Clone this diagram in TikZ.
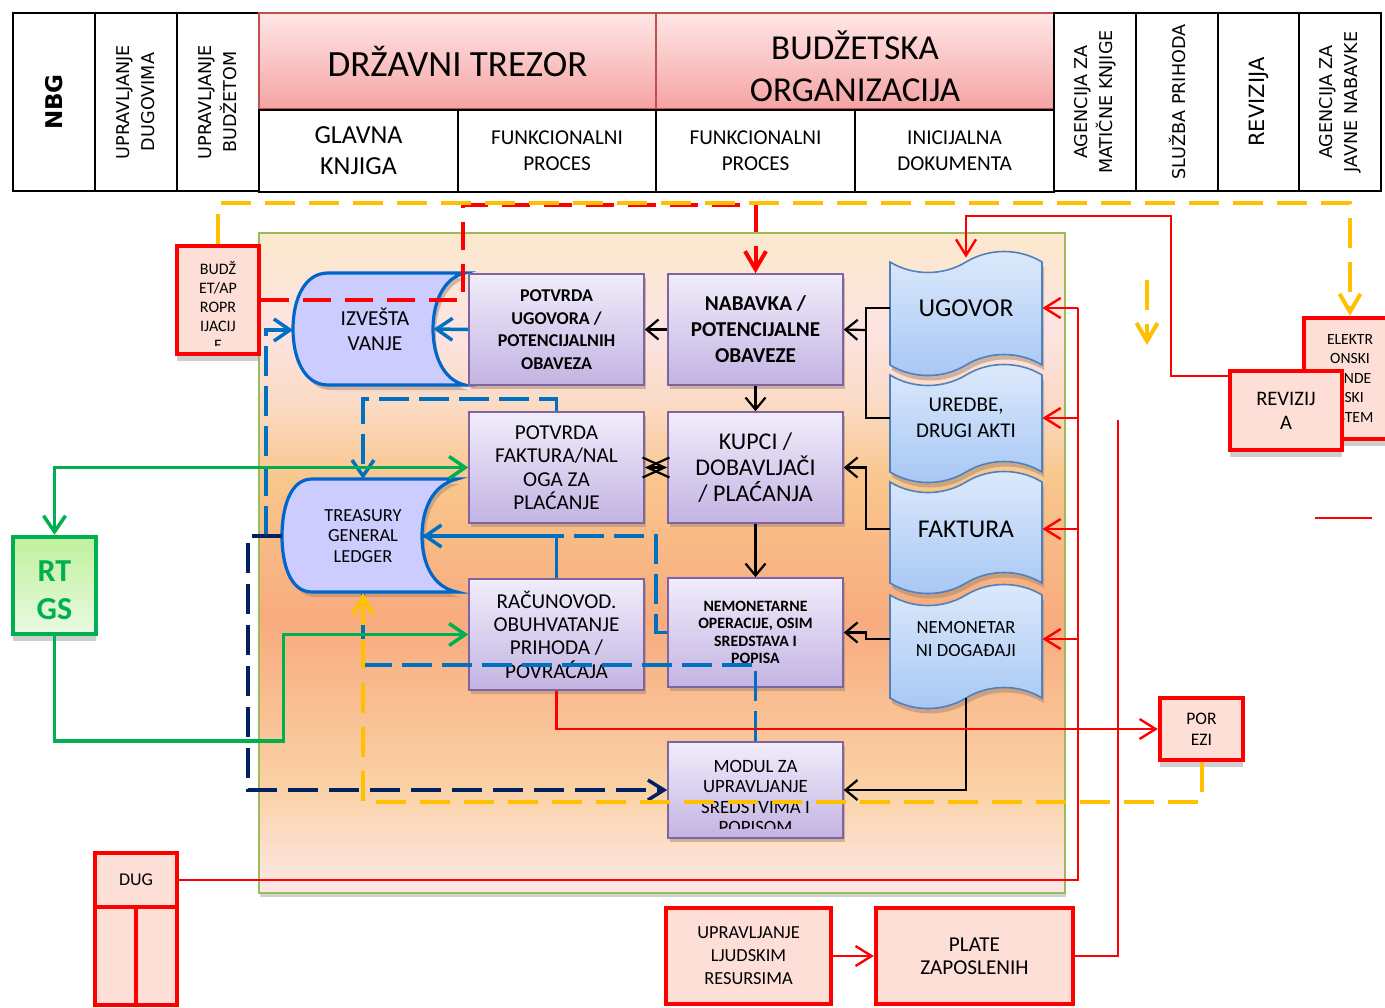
\documentclass[tikz,border=0pt]{standalone}
\usepackage{fontspec}
\setmainfont{Carlito}
\newfontfamily\hdrfont{DejaVu Sans}
\usepackage{xcolor}
\usetikzlibrary{arrows.meta, shadows, calc}
\definecolor{hdrred}{HTML}{C0504D}
\definecolor{hdrtop}{HTML}{FFE6E6}
\definecolor{hdrbot}{HTML}{F5A3A3}
\definecolor{pnlline}{HTML}{9BBB59}
\definecolor{pA}{HTML}{FBE8CC}
\definecolor{pB}{HTML}{FDE4E2}
\definecolor{pBB}{HTML}{FBDBC6}
\definecolor{pC}{HTML}{F9C68C}
\definecolor{pD}{HTML}{F8AB7E}
\definecolor{pE}{HTML}{FAD2A6}
\definecolor{pF}{HTML}{FDE8E8}
\definecolor{rfill}{HTML}{FDDFD8}
\definecolor{pline}{HTML}{8064A2}
\definecolor{ptop}{HTML}{F1EDFB}
\definecolor{pbot}{HTML}{C3B3E2}
\definecolor{docline}{HTML}{4F81BD}
\definecolor{doctop}{HTML}{DEEAFB}
\definecolor{docbot}{HTML}{A6C7F5}
\definecolor{stline}{HTML}{0066CC}
\definecolor{stfill}{HTML}{CCCCFF}
\definecolor{shbrown}{HTML}{A08672}
\definecolor{yel}{HTML}{FFC000}
\definecolor{blu}{HTML}{0070C0}
\definecolor{navy}{HTML}{002060}
\definecolor{grn}{HTML}{00B050}
\definecolor{gtop}{HTML}{C0F09C}
\definecolor{gbot}{HTML}{EAFAE2}
\pgfdeclareverticalshading{panelshade}{100bp}{color(0bp)=(pF); color(25bp)=(pF); color(32.8bp)=(pE); color(45.7bp)=(pD); color(56.3bp)=(pC); color(62.3bp)=(pBB); color(67.6bp)=(pB); color(75bp)=(pA); color(100bp)=(pA)}
\tikzstyle{hcell} = [rectangle, draw=black, line width=0.65pt, inner sep=0pt, align=center]
\tikzstyle{hpink} = [hcell, draw=hdrred, top color=hdrtop, bottom color=hdrbot]
\tikzstyle{hvert} = [hcell, rotate=90, minimum width=89pt, minimum height=41pt, font=\hdrfont\fontsize{8.8}{12.5}\selectfont]
\tikzstyle{panelbox} = [rectangle, draw=pnlline, line width=0.8pt, shade, shading=panelshade, drop shadow={shadow xshift=0.5pt, shadow yshift=-2pt, fill=black!35}]
\tikzstyle{rbox} = [rectangle, draw=red, line width=2.2pt, fill=rfill, align=center, inner sep=1pt]
\tikzstyle{rshadow} = [drop shadow={shadow xshift=0pt, shadow yshift=-3.5pt, fill=black!38}]
\tikzstyle{pbox} = [rectangle, draw=pline, line width=0.8pt, top color=ptop, bottom color=pbot, align=center, inner sep=1pt, drop shadow={shadow xshift=1pt, shadow yshift=-2pt, fill=shbrown}]
\tikzstyle{docfill} = [draw=docline, line width=0.8pt, top color=doctop, bottom color=docbot, drop shadow={shadow xshift=1pt, shadow yshift=-2.5pt, fill=shbrown}]
\tikzstyle{storefill} = [draw=stline, line width=1.6pt, fill=stfill, drop shadow={shadow xshift=1.5pt, shadow yshift=-2.5pt, fill=shbrown}]
\tikzstyle{ttext} = [align=center, inner sep=0pt]
\tikzstyle{blkline} = [line width=1.1pt, black]
\tikzstyle{blkarrow} = [blkline, -{Straight Barb[length=6pt,width=10pt]}]
\tikzstyle{blkdouble} = [blkline, {Straight Barb[length=11pt,width=10pt]}-{Straight Barb[length=11pt,width=10pt]}]
\tikzstyle{redline} = [line width=1.2pt, red]
\tikzstyle{redarrow} = [redline, -{Straight Barb[length=8pt,width=10pt]}]
\tikzstyle{reddash} = [line width=2pt, red, dash pattern=on 14pt off 7pt, -{Straight Barb[length=9pt,width=10.5pt]}]
\tikzstyle{yelarrow} = [line width=2pt, yel, dash pattern=on 15pt off 7pt, -{Straight Barb[length=9pt,width=10.5pt]}]
\tikzstyle{grnarrow} = [line width=1.75pt, grn, -{Straight Barb[length=8pt,width=11pt]}]
\tikzstyle{grndouble} = [line width=1.75pt, grn, {Straight Barb[length=8pt,width=11pt]}-{Straight Barb[length=8pt,width=11pt]}]
\tikzstyle{bluarrow} = [line width=1.75pt, blu, -{Straight Barb[length=8pt,width=11pt]}]
\tikzstyle{bludash} = [line width=1.75pt, blu, dash pattern=on 15pt off 5pt]
\tikzstyle{bludasharrow} = [bludash, -{Straight Barb[length=8pt,width=11pt]}]
\tikzstyle{navyarrow} = [line width=1.75pt, navy, dash pattern=on 15pt off 5.5pt, -{Straight Barb[length=8pt,width=10pt]}]
\newcommand{\docshape}[2]{%
  \path[docfill] (890,#1) .. controls (913,#1+14) and (943,#1+14) .. (966,#1)
    .. controls (989,#1-14) and (1019,#1-14) .. (1042,#1) -- (1042,#2)
    .. controls (1019,#2-14) and (989,#2-14) .. (966,#2)
    .. controls (943,#2+14) and (913,#2+14) .. (890,#2) -- cycle;}
\begin{document}
\begin{tikzpicture}[x=0.5pt, y=-0.5pt]
    \useasboundingbox (0,0) rectangle (1385,1007);
    \fill[white] (0,0) rectangle (1385,1007);
    \clip (0,0) rectangle (1385,1007);

    % Header
    \node[hvert, font=\hdrfont\bfseries\fontsize{11.5}{13}\selectfont] (nbg) at (54,102) {NBG};
    \node[hvert] (dugh) at (136,102) {UPRAVLJANJE\\DUGOVIMA};
    \node[hvert] (budh) at (218,102) {UPRAVLJANJE\\BUDŽETOM};
    \node[hpink, minimum width=198.5pt, minimum height=48pt, font=\fontsize{18.5}{21}\selectfont] (trezor) at (457.5,61) {DRŽAVNI TREZOR};
    \node[hcell, minimum width=99.5pt, minimum height=41pt, font=\fontsize{13}{15.5}\selectfont] (glavna) at (358.5,151) {GLAVNA\\KNJIGA};
    \node[hcell, minimum width=99pt, minimum height=41pt, font=\fontsize{10.6}{13}\selectfont] (funkdt) at (557,151) {FUNKCIONALNI\\PROCES};
    \node[hpink, minimum width=199pt, minimum height=48pt] (budorg) at (855,61) {};
    \node[ttext, font=\fontsize{17.5}{21}\selectfont] (budorgtxt) at (855,66) {BUDŽETSKA\\ORGANIZACIJA};
    \node[hcell, minimum width=99.5pt, minimum height=41pt, font=\fontsize{10.6}{13}\selectfont] (funkbo) at (755.5,151) {FUNKCIONALNI\\PROCES};
    \node[hcell, minimum width=99.5pt, minimum height=41pt, font=\fontsize{10.6}{13}\selectfont] (inic) at (954.5,151) {INICIJALNA\\DOKUMENTA};
    \node[hvert] (agmk) at (1095,102) {AGENCIJA ZA\\MATIČNE KNJIGE};
    \node[hvert] (sluzba) at (1177,102) {SLUŽBA PRIHODA};
    \node[hvert, minimum height=40.5pt, font=\hdrfont\fontsize{10.5}{12.5}\selectfont] (revh) at (1258.5,102) {REVIZIJA};
    \node[hvert] (javne) at (1340,102) {AGENCIJA ZA\\JAVNE NABAVKE};

    % Panel
    \node[panelbox, minimum width=403pt, minimum height=330pt] (panel) at (662,563) {};

    % Outside boxes
    \node[rbox, rshadow, minimum width=41pt, minimum height=54pt] (budzet) at (218,300) {};
    \begin{scope}
        \clip (180,249) rectangle (256,345);
        \node[ttext, font=\fontsize{8}{9.6}\selectfont] (budzettxt) at (218,306) {BUDŽ\\ET/AP\\ROPR\\IJACIJ\\E};
    \end{scope}
    \node[rbox, rshadow, minimum width=46pt, minimum height=60.5pt, font=\fontsize{7.8}{9.75}\selectfont] (elek) at (1350,378.5) {ELEKTR\\ONSKI\\TENDE\\RSKI\\SISTEM};
    \node[rbox, rshadow, minimum width=56pt, minimum height=39.5pt, font=\fontsize{10.3}{12}\selectfont] (revizija) at (1286,410.5) {REVIZIJ\\A};
    \node[rbox, draw=grn, top color=gtop, bottom color=gbot, rshadow, minimum width=41.5pt, minimum height=48.5pt, text=grn, font=\bfseries\fontsize{16}{19}\selectfont] (rtgs) at (54.5,585.5) {};
    \node[ttext, text=grn, font=\bfseries\fontsize{16}{19}\selectfont] (rtgstxt) at (54.5,590) {RT\\GS};
    \node[rbox, rshadow, minimum width=41.5pt, minimum height=31pt, font=\fontsize{8.8}{10.5}\selectfont] (porezi) at (1201.5,729) {POR\\EZI};
    \node[rbox, line width=1.8pt, minimum width=41pt, minimum height=27pt, font=\fontsize{9}{11}\selectfont] (dug) at (136,880) {DUG};
    \node[rbox, line width=1.8pt, minimum width=20.5pt, minimum height=49pt] (dugl) at (115.5,956) {};
    \node[rbox, line width=1.8pt, minimum width=20.5pt, minimum height=49pt] (dugr) at (156.5,956) {};
    \node[rbox, minimum width=82.5pt, minimum height=48pt, font=\fontsize{9.2}{11.5}\selectfont] (uljr) at (748.5,956) {UPRAVLJANJE\\LJUDSKIM\\RESURSIMA};
    \node[rbox, minimum width=98.5pt, minimum height=48pt, font=\fontsize{10.6}{11.5}\selectfont] (plate) at (974.5,956) {PLATE\\ZAPOSLENIH};

    % Stored data shapes
    \path[storefill] (465,273) -- (328,273) .. controls (304,273) and (293,300) .. (293,329)
        .. controls (293,358) and (304,385) .. (328,385) -- (465,385)
        .. controls (443,380) and (433,355) .. (433,329) .. controls (433,303) and (443,278) .. cycle;
    \node[ttext, minimum width=58pt, minimum height=56pt, font=\fontsize{10.7}{12.5}\selectfont] (izvestaj) at (375,329) {IZVEŠTA\\VANJE};
    \path[storefill] (457,479) -- (312,479) .. controls (290,479) and (282,508) .. (282,536)
        .. controls (282,564) and (290,592) .. (312,592) -- (457,592)
        .. controls (432,587) and (422,562) .. (422,536) .. controls (422,510) and (432,485) .. cycle;
    \node[ttext, minimum width=59pt, minimum height=56.5pt, font=\fontsize{9.2}{10.3}\selectfont] (treasury) at (363,536) {TREASURY\\GENERAL\\LEDGER};

    % Process boxes
    \node[pbox, minimum width=87.5pt, minimum height=55.5pt, font=\bfseries\fontsize{9}{11.3}\selectfont] (potugov) at (556.5,329.5) {POTVRDA\\UGOVORA /\\POTENCIJALNIH\\OBAVEZA};
    \node[pbox, minimum width=87.5pt, minimum height=55.5pt, font=\bfseries\fontsize{10.6}{13}\selectfont] (nabavka) at (755.5,329.5) {NABAVKA /\\POTENCIJALNE\\OBAVEZE};
    \node[pbox, minimum width=87.5pt, minimum height=55.5pt, font=\fontsize{10.6}{11.7}\selectfont] (potfakt) at (556.5,467.5) {POTVRDA\\FAKTURA/NAL\\OGA ZA\\PLAĆANJE};
    \node[pbox, minimum width=87.5pt, minimum height=55.5pt, font=\fontsize{12}{13}\selectfont] (kupci) at (755.5,467.5) {KUPCI /\\DOBAVLJAČI\\/ PLAĆANJA};
    \node[pbox, minimum width=87.5pt, minimum height=55.5pt, font=\fontsize{10.6}{11.7}\selectfont] (racun) at (556.5,634.5) {RAČUNOVOD.\\OBUHVATANJE\\PRIHODA /\\POVRAĆAJA};
    \node[pbox, minimum width=87.5pt, minimum height=54.5pt, font=\bfseries\fontsize{7.9}{8.7}\selectfont] (nemop) at (755.5,632.5) {NEMONETARNE\\OPERACIJE, OSIM\\SREDSTAVA I\\POPISA};
    \node[pbox, minimum width=87.5pt, minimum height=48pt] (modul) at (755.5,790) {};
    \begin{scope}
        \clip (669,743) rectangle (842,828);
        \node[ttext, font=\fontsize{9.4}{10.2}\selectfont] (modultxt) at (755.5,797) {MODUL ZA\\UPRAVLJANJE\\SREDSTVIMA I\\POPISOM};
    \end{scope}

    % Documents
    \docshape{262}{365}
    \node[ttext, minimum width=76pt, minimum height=50pt, font=\fontsize{12.9}{15}\selectfont] (ugovor) at (966,308) {UGOVOR};
    \docshape{375}{472}
    \node[ttext, minimum width=76pt, minimum height=44pt, font=\fontsize{10.5}{13}\selectfont] (uredbe) at (966,418) {UREDBE,\\DRUGI AKTI};
    \docshape{482}{583}
    \node[ttext, minimum width=76pt, minimum height=44pt, font=\fontsize{12.8}{15}\selectfont] (faktura) at (966,529) {FAKTURA};
    \docshape{595}{698}
    \node[ttext, minimum width=76pt, minimum height=59pt, font=\fontsize{9.3}{11.5}\selectfont] (nemonet) at (966,639) {NEMONETAR\\NI DOGAĐAJI};

    % Black flow
    \draw[blkarrow] (nabavka.west) -- (potugov.east);
    \draw[blkarrow] (nabavka.south) -- (kupci.north);
    \draw[blkarrow] (kupci.south) -- (nemop.north);
    \draw[blkdouble] (kupci.west) -- (potfakt.east);
    \coordinate (brk) at (866,330);
    \draw[blkline] (ugovor.west) -| (brk) |- (uredbe.west);
    \draw[blkarrow] (brk) -- (nabavka.east);
    \draw[blkarrow] (faktura.west) -- ++(-24,0) |- (kupci.east);
    \draw[blkarrow] (nemonet.west) -- ++(-24,0) |- (nemop.east);
    \draw[blkarrow] (nemonet.south) |- (modul.east);

    % Blue flow
    \draw[bluarrow] (potugov.west) -- (izvestaj.east);
    \coordinate (izvleft) at (293,330);
    \coordinate (bjoin) at (266,536);
    \draw[bludasharrow] (bjoin) |- (izvleft);
    \coordinate (tglleft) at (282,536);
    \draw[navyarrow] (tglleft) -- ++(-34,0) |- (modul.west);
    \draw[bludasharrow] (potfakt.north) -- ++(0,-12) -| (treasury.north);
    \draw[bludash] (nemop.west) -- ++(-11,0) |- (treasury.east);
    \draw[bluarrow] (racun.north) |- (treasury.east);
    \draw[bludash] (modul.north) -- ++(0,-76) -| (treasury.south);

    % Green flow
    \draw[grndouble] (rtgs.north) |- (potfakt.west);
    \draw[grnarrow] (rtgs.south) -- ++(0,105) -- ++(229,0) |- (racun.west);

    % Red flow
    \coordinate (rd1) at (463,205);
    \draw[reddash] (budzet.east) -| (rd1) -| (nabavka.north);
    \draw[redarrow] ($(revizija.north west)+(0,7)$) -- ++(-57,0) -- ++(0,-160) -| (ugovor.north);
    \coordinate (rbus) at (1078,308);
    \draw[redline] (dug.east) -| (rbus);
    \foreach \d in {ugovor,uredbe,faktura,nemonet}
        \draw[redarrow] (\d.east -| rbus) -- (\d.east);
    \coordinate (rtop) at (1118,420);
    \draw[redline] (plate.east) -| (rtop);
    \coordinate (rs1) at (1315,518);
    \coordinate (rs2) at (1372,518);
    \draw[redline] (rs1) -- (rs2);
    \draw[redarrow] (racun.south) |- (porezi.west);
    \draw[redarrow] (uljr.east) -- (plate.west);

    % Yellow flow
    \draw[yelarrow] (budzet.north) -- ++(0,-41) -| (elek.north);
    \coordinate (ya) at (1147,280);
    \coordinate (yb) at (1147,345);
    \draw[yelarrow] (ya) -- (yb);
    \draw[yelarrow] (porezi.south) -- ++(0,40) -| (treasury.south);

\end{tikzpicture}
\end{document}
